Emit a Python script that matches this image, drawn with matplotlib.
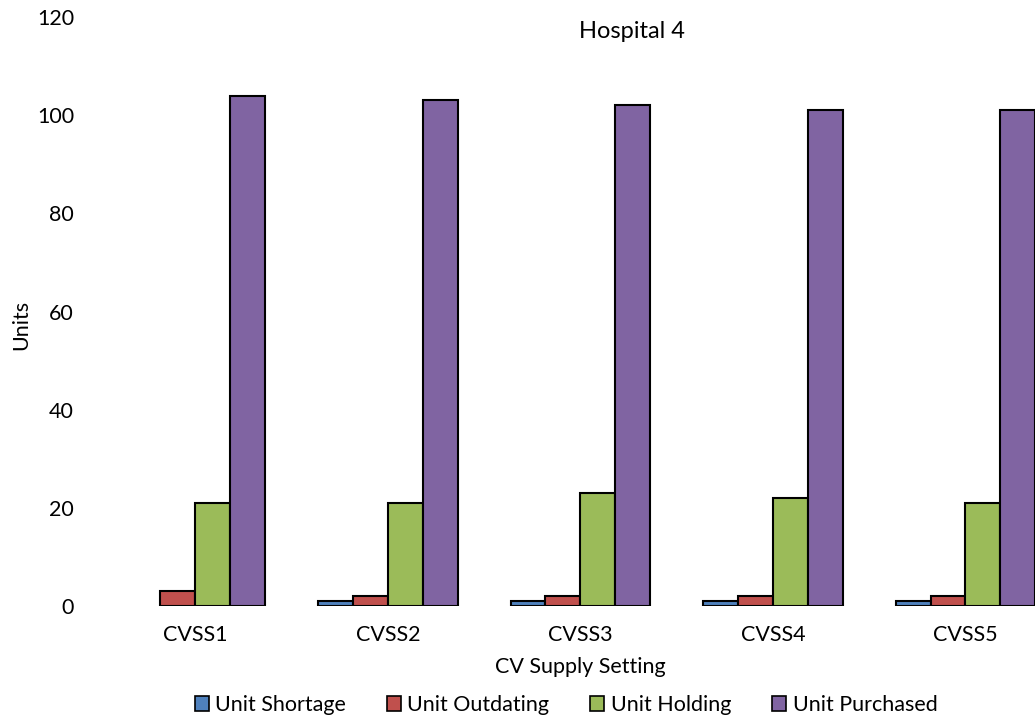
import matplotlib
matplotlib.use("Agg")
import matplotlib.pyplot as plt
from matplotlib.patches import Patch
import numpy as np

categories = ["CVSS1", "CVSS2", "CVSS3", "CVSS4", "CVSS5"]
series_names = ["Unit Shortage", "Unit Outdating", "Unit Holding", "Unit Purchased"]
unit_shortage = [0, 1, 1, 1, 1]
unit_outdating = [3, 2, 2, 2, 2]
unit_holding = [21, 21, 23, 22, 21]
unit_purchased = [104, 103, 102, 101, 101]
y_ticks = [0, 20, 40, 60, 80, 100, 120]

colors = ["#4F81BD", "#C0504D", "#9BBB59", "#8064A2"]
plt.rcParams["font.family"] = ["Lato", "DejaVu Sans"]
fs = 15.5

fig = plt.figure(figsize=(10.35, 7.23), dpi=100)
ax = fig.add_axes([0.0957, 0.1618, 0.93, 0.8147])

x = np.arange(len(categories))
w = 0.181
all_series = [unit_shortage, unit_outdating, unit_holding, unit_purchased]
for i, (vals, c) in enumerate(zip(all_series, colors)):
    lws = [1.5 if v > 0 else 0 for v in vals]
    ax.bar(x + (i - 1.5) * w, vals, width=w, color=c, edgecolor="black",
           linewidth=lws, zorder=3)

ax.set_xlim(-0.5, len(categories) - 0.5)
ax.set_ylim(0, 120)
ax.set_yticks(y_ticks)
ax.set_xticks(x)
ax.set_xticklabels(categories)
ax.tick_params(axis="both", length=0, labelsize=fs, colors="black")
ax.tick_params(axis="y", pad=18)
ax.tick_params(axis="x", pad=14)
for s in ax.spines.values():
    s.set_visible(False)

fig.text(21 / 1035, 1 - 325 / 723, "Units", rotation=90, ha="center", va="center", fontsize=fs)
ax.set_xlabel("CV Supply Setting", fontsize=fs, labelpad=8)
fig.text(632 / 1035, 1 - 32 / 723, "Hospital 4", ha="center", va="center", fontsize=17)

handles = [Patch(facecolor=c, edgecolor="black", linewidth=1.2) for c in colors]
fig.legend(handles, series_names, loc="center", bbox_to_anchor=(566 / 1035, 1 - 705 / 723),
           ncol=4, frameon=False, fontsize=fs, handlelength=0.65, handleheight=0.65,
           handletextpad=0.3, columnspacing=1.9)

fig.savefig("out.png", dpi=100)
